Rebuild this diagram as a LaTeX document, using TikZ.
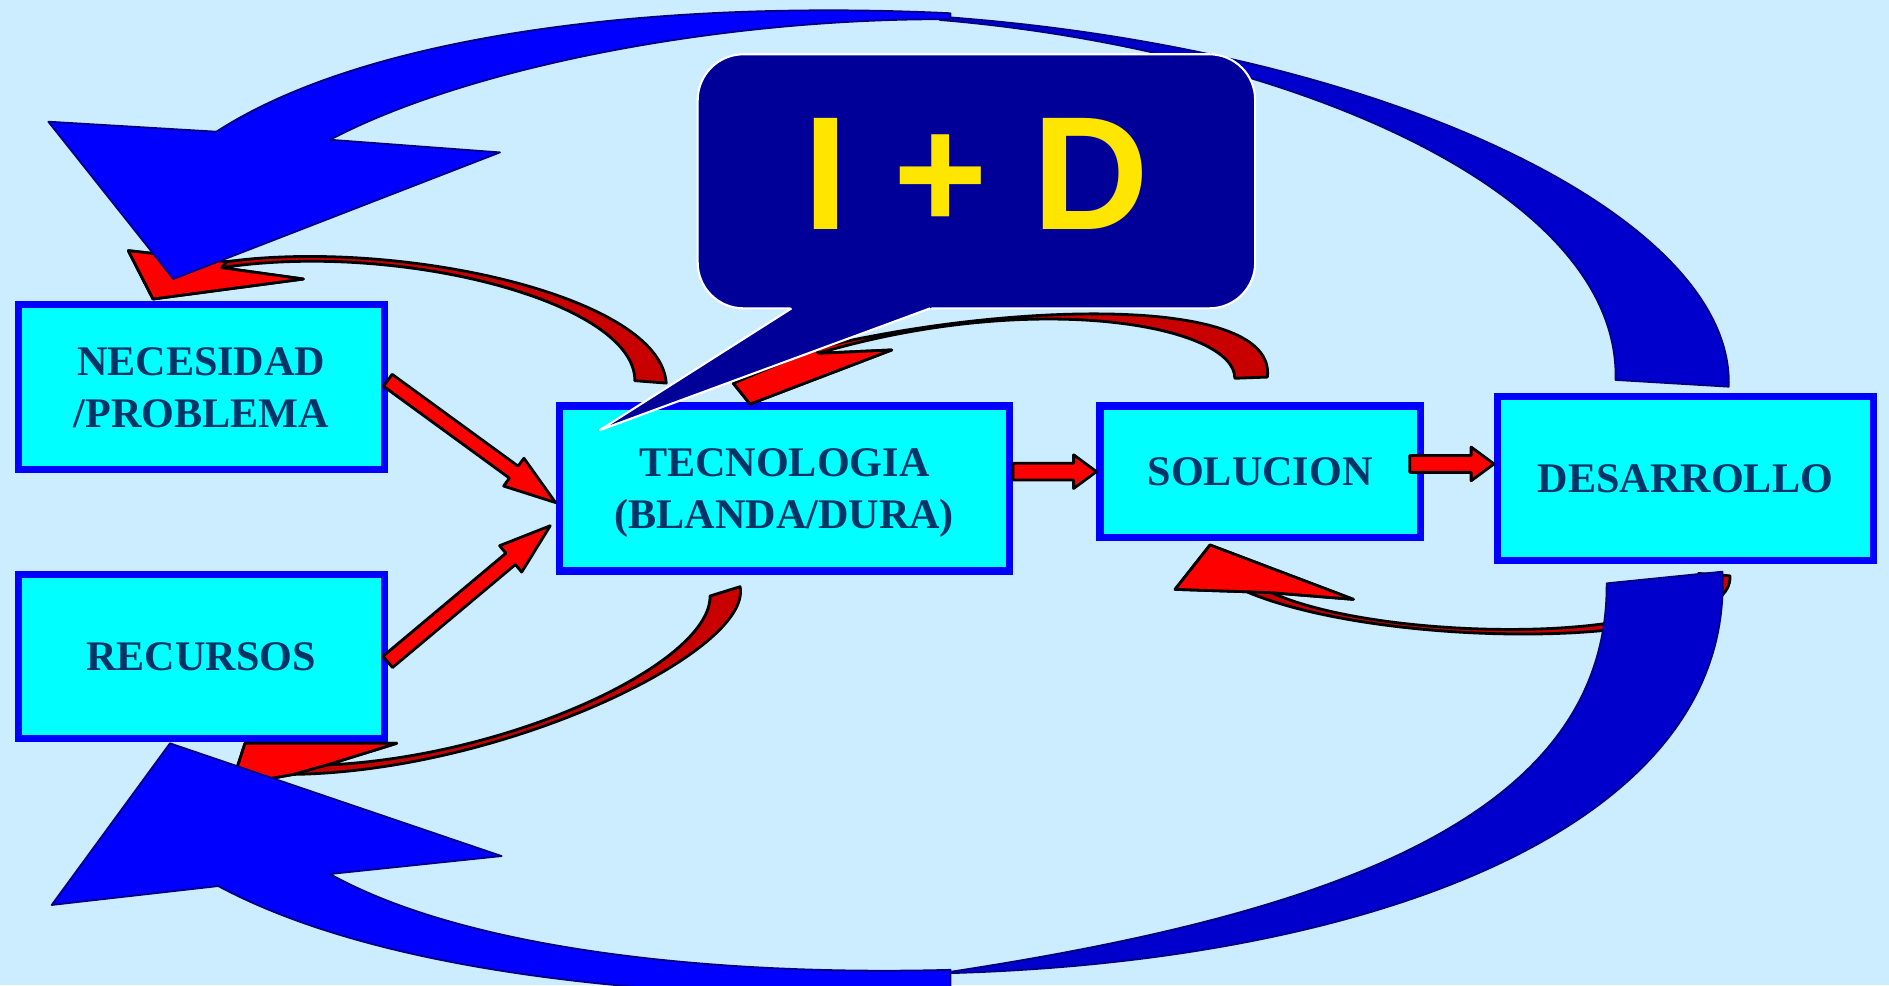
\documentclass[tikz,border=0pt]{standalone}
\usepackage{fontspec}
\setmainfont{Liberation Serif}
\newfontfamily\bubblefont{Liberation Sans}
\usetikzlibrary{calc}

\definecolor{skyback}{RGB}{204,236,255}
\definecolor{boxcyan}{RGB}{0,255,255}
\definecolor{boxblue}{RGB}{0,0,255}
\definecolor{boxtext}{RGB}{0,51,102}
\definecolor{bubblenavy}{RGB}{0,0,153}
\definecolor{idyellow}{RGB}{255,230,0}
\definecolor{arrowred}{RGB}{255,0,0}
\definecolor{shadered}{RGB}{200,0,0}
\definecolor{arcblue}{RGB}{0,0,255}
\definecolor{arcdark}{RGB}{0,0,204}
\definecolor{arcedge}{RGB}{0,0,128}

\newcommand{\blockarrow}[5]{%
  \path (#2) coordinate (ba-tip) ($(#2)!#5!(#1)$) coordinate (ba-base);
  \filldraw[redblock] ($(#1)!#3!90:(#2)$) -- ($(ba-base)!#3!90:(ba-tip)$) -- ($(ba-base)!#4!90:(ba-tip)$) -- (ba-tip)
    -- ($(ba-base)!#4!-90:(ba-tip)$) -- ($(ba-base)!#3!-90:(ba-tip)$) -- ($(#1)!#3!-90:(#2)$) -- cycle;
}

\begin{document}
\begin{tikzpicture}[x=0.012047cm, y=-0.012047cm]
      \tikzstyle{process} = [rectangle, draw=boxblue, fill=boxcyan, line width=2.05pt, text=boxtext, align=center, inner sep=0pt, text depth=0pt, font=\fontsize{12}{14.8}\selectfont\bfseries]
      \tikzstyle{bubble} = [rectangle, rounded corners=0.458cm, fill=bubblenavy, draw=white, line width=0.6pt, minimum width=5.578cm, minimum height=2.542cm, text depth=4.4pt, text=idyellow, font=\bubblefont\bfseries\fontsize{46}{50}\selectfont]
      \tikzstyle{bigarc} = [draw=arcedge, line width=0.5pt, line join=round]
      \tikzstyle{curved} = [draw=black, line width=0.8pt, fill=shadered, line join=round]
      \tikzstyle{curvedhead} = [draw=black, line width=0.8pt, fill=arrowred, line join=round]
      \tikzstyle{redblock} = [draw=black, line width=0.8pt, fill=arrowred, line join=round]

      \useasboundingbox (0,0) rectangle (1568,818);
      \clip (0,0) rectangle (1568,818);
      \fill[skyback] (0,0) rectangle (1568,818);

      \node (necesidad) [process, minimum width=3.662cm, minimum height=1.650cm] at (167,321.5) {NECESIDAD\\/PROBLEMA};
      \node (recursos) [process, minimum width=3.662cm, minimum height=1.638cm] at (167,545) {RECURSOS};
      \node (tecnologia) [process, minimum width=4.506cm, minimum height=1.650cm] at (651,405.5) {TECNOLOGIA\\(BLANDA/DURA)};
      \node (solucion) [process, minimum width=3.204cm, minimum height=1.313cm] at (1046,391.5) {SOLUCION};
      \node (desarrollo) [process, minimum width=3.759cm, minimum height=1.638cm] at (1399,397) {DESARROLLO};

      \draw[curved] (127,248.2) -- (251.8,231.6) -- (184,222.2) .. controls (330,200) and (527,250) .. (527,316) -- (553,318) .. controls (548,245) and (330,198) .. (188.2,217.2) -- (106.5,208.1) -- cycle;
      \draw[curvedhead] (127,248.2) -- (251.8,231.6) -- (184,222.2) -- (188.2,217.2) -- (106.5,208.1) -- cycle;

      \draw[curved] (622.6,335.4) -- (740.2,290.5) -- (679.3,293.3) .. controls (860,240) and (1025,270) .. (1025,314) -- (1052,313) .. controls (1060,245) and (840,250) .. (677,289) -- (608.7,318.2) -- cycle;
      \draw[curvedhead] (622.6,335.4) -- (740.2,290.5) -- (679.3,293.3) -- (677,289) -- (608.7,318.2) -- cycle;

      \draw[curved] (203.4,617) -- (329.3,617) -- (271.2,635) .. controls (425,628) and (590,550) .. (589.4,494.7) -- (614.3,487) .. controls (625,540) and (420,640) .. (243.5,642.8) -- (192,652) -- cycle;
      \draw[curvedhead] (203.4,617) -- (329.3,617) -- (271.2,635) -- (243.5,642.8) -- (192,652) -- cycle;

      \draw[curved] (1004.4,452.4) -- (1123.4,497.5) -- (1055.6,492) .. controls (1150,535) and (1420,535) .. (1410,476) -- (1436,478) .. controls (1440,540) and (1150,540) .. (1034.8,491.2) -- (975.4,489.2) -- cycle;
      \draw[curvedhead] (1004.4,452.4) -- (1123.4,497.5) -- (1055.6,492) -- (1034.8,491.2) -- (975.4,489.2) -- cycle;

      \filldraw[bigarc, fill=arcdark] (780,13.8) .. controls (1150,40) and (1440,180) .. (1435,321) -- (1341,315.4) .. controls (1345,155) and (1060,40) .. (780,16.6) -- cycle;
      \filldraw[bigarc, fill=arcblue] (179.6,109.3) .. controls (310,25) and (560,0) .. (789,11) -- (789,16) .. controls (600,15) and (390,55) .. (274,116) -- (415,126.5) -- (143.9,231.6) -- (40.1,101) -- cycle;

      \filldraw[bigarc, fill=arcdark] (780,808) .. controls (1130,800) and (1440,690) .. (1429.7,474.5) -- (1333.6,484.2) .. controls (1335,680) and (1100,760) .. (780,808) -- cycle;
      \filldraw[bigarc, fill=arcblue] (141.1,617) -- (416.4,710.6) -- (273.9,725.5) .. controls (390,790) and (600,810) .. (789,805) -- (789,826) .. controls (560,832) and (320,810) .. (181.2,735.5) -- (42.9,751.2) -- cycle;

      \node (i-d) [bubble] at (810.5,150.5) {I + D};
      \fill[bubblenavy] (650,250) -- (657,256) -- (498,357) -- (772,256) -- (780,250) -- cycle;
      \draw[white, line width=0.6pt, line join=round] (657,256) -- (498,357) -- (772,256);

      \coordinate (nec-out) at ([yshift=2pt]necesidad.east);
      \coordinate (tec-in1) at ([yshift=-4pt]tecnologia.west);
      \coordinate (rec-out) at ([yshift=-1.5pt]recursos.east);
      \coordinate (tec-in2) at ([xshift=-1.5pt,yshift=-10.6pt]tecnologia.west);
      \coordinate (tec-out) at (tecnologia.east |- solucion.west);
      \coordinate (sol-out) at ([xshift=-4pt,yshift=2.2pt]solucion.east);
      \coordinate (des-in) at (desarrollo.west |- sol-out);

      \blockarrow{nec-out}{tec-in1}{2.1pt}{4.9pt}{14.7pt}
      \blockarrow{rec-out}{tec-in2}{2.1pt}{4.9pt}{14.7pt}
      \blockarrow{tec-out}{solucion.west}{2.4pt}{4.8pt}{6.5pt}
      \blockarrow{sol-out}{des-in}{2.4pt}{4.8pt}{6.5pt}
    \end{tikzpicture}
\end{document}
